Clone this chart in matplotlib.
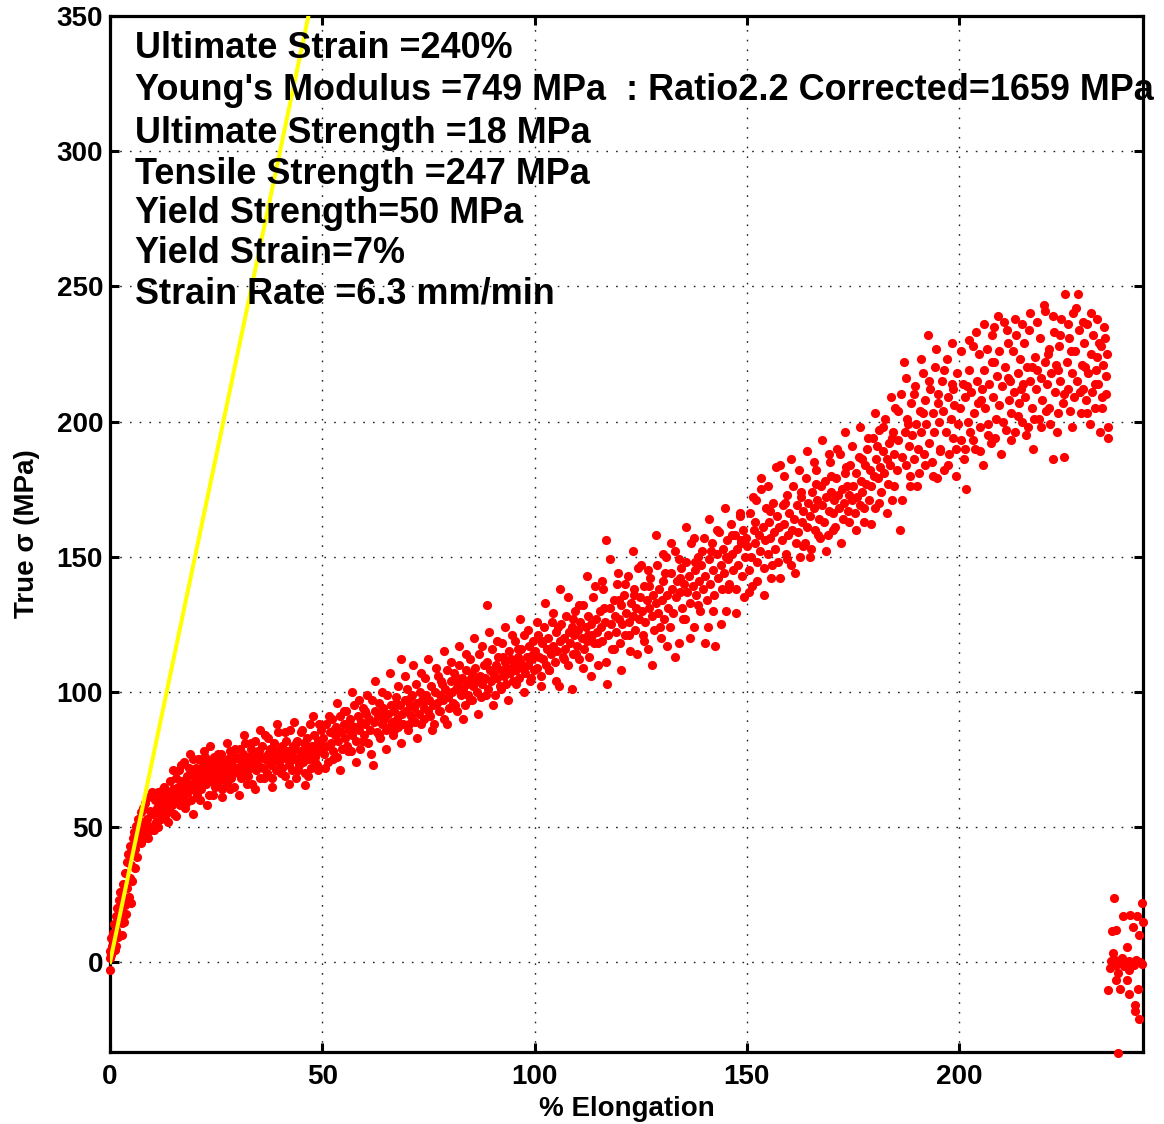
import matplotlib
matplotlib.use("Agg")
import matplotlib.pyplot as plt
import numpy as np

# ---------------- data: (% elongation, true stress MPa) ----------------
seg_a = [(0.0,-3.0),(0.0,1.5),(0.1,4.0),(0.2,9.0),(0.3,2.5),(0.5,6.0),(0.6,11.0),(0.8,8.5),(1.0,14.0),(1.1,4.5),
         (1.3,17.0),(1.5,12.0),(1.7,20.0),(1.9,9.5),(2.1,23.0),(2.3,16.0),(2.4,26.0),(2.6,19.0),(2.9,14.5),(3.1,29.0),
         (3.3,24.0),(3.5,33.0),(3.6,21.0),(3.9,37.0),(4.1,27.5),(4.3,40.0),(4.6,31.0),(4.8,43.0),(5.0,36.0),(5.3,46.0),
         (5.5,39.5),(5.7,48.0),(6.0,42.0),(6.2,50.5),(6.5,44.5),(6.7,53.0),(7.0,47.0),(7.2,55.5),(7.5,49.0),(7.8,57.0),
         (8.1,51.5),(8.3,59.0),(8.6,53.0),(8.9,61.0),(9.2,50.5),(9.5,56.0),(9.8,63.0),
         (1.45,6.0),(2.75,10.0),(3.25,15.0),(3.85,18.0),(4.45,24.0),(4.95,22.0),(5.15,30.0),(5.95,35.0),(6.45,39.0),
         (7.35,44.0),(7.95,46.0),(8.45,48.0),(9.05,46.0),(9.65,49.0)]

seg_b = [(10.1,55),(10.3,49),(10.5,60),(10.8,52),(11.0,57),(11.2,63),(11.4,50),(11.7,55),(11.9,59),(12.1,53),
         (12.3,61),(12.5,57),(12.8,65),(13.0,54),(13.2,60),(13.5,58),(13.7,63),(13.9,56),(14.2,67),(14.4,61),
         (14.6,58),(14.9,64),(15.1,55),(15.3,62),(15.6,68),(15.8,60),(16.0,65),(16.3,71),(16.5,58),(16.7,63),
         (17.0,67),(17.2,61),(17.4,74),(17.7,65),(17.9,59),(18.2,69),(18.4,63),(18.6,72),(18.9,66),(19.1,60),
         (19.3,70),(19.6,75),(19.8,64),(20.1,68),(20.3,72),(20.5,62),(20.8,66),(21.0,75),(21.3,70),(21.5,64),
         (21.8,68),(22.0,73),(22.3,76),(22.5,66),(22.8,71),(23.0,69),(23.3,62),(23.5,74),(23.8,67),(24.0,72),
         (24.3,70),(24.5,76),(24.8,65),(25.0,69),(25.3,73),(25.6,67),(25.8,71),(26.1,77),(26.3,64),(26.6,70),
         (26.8,74),(27.1,68),(27.3,72),(27.6,66),(27.8,75),(28.1,70),(28.3,78),(28.6,68),(28.8,73),(29.1,71),
         (29.3,65),(29.6,76),(29.8,72)]

seg_c = [(30.1,70),(30.3,75),(30.6,79),(30.8,68),(31.1,73),(31.3,77),(31.6,71),(31.8,81),(32.1,74),(32.4,69),
         (32.6,76),(32.9,72),(33.1,79),(33.4,66),(33.6,74),(33.9,77),(34.1,82),(34.4,71),(34.6,75),(34.9,73),
         (35.1,78),(35.4,68),(35.6,76),(35.9,80),(36.1,72),(36.4,75),(36.6,84),(36.9,70),(37.1,77),(37.4,74),
         (37.6,79),(37.9,73),(38.1,68),(38.4,76),(38.6,81),(38.9,75),(39.1,71),(39.4,78),(39.6,85),(39.9,74),
         (40.1,77),(40.4,72),(40.6,80),(40.9,76),(41.1,69),(41.4,82),(41.6,75),(41.9,78),(42.1,73),(42.4,86),
         (42.6,77),(42.9,71),(43.1,80),(43.4,75),(43.6,79),(43.9,68),(44.1,82),(44.4,76),(44.6,73),(44.9,85),
         (45.1,78),(45.4,74),(45.6,81),(45.9,70),(46.0,65.5),(46.1,77),(46.4,83),(46.6,79),(46.9,75),(47.1,88),
         (47.4,72),(47.6,80),(47.9,77),(48.1,84),(48.4,74),(48.6,79),(48.9,82),(49.1,71),(49.4,78),(49.6,86),(49.9,80)]

seg_d = [(50.2,83),(50.5,77),(50.8,88),(51.1,80),(51.4,74),(51.7,85),(52.0,81),(52.3,90),(52.6,78),(52.9,84),
         (53.2,87),(53.5,76),(53.8,82),(54.1,91),(54.4,85),(54.7,79),(55.0,88),(55.3,83),(55.6,93),(55.9,80),
         (56.2,86),(56.5,90),(56.8,78),(57.1,84),(57.4,95),(57.7,87),(58.0,82),(58.3,91),(58.6,86),(58.9,79),
         (59.2,89),(59.5,94),(59.8,84),(60.1,88),(60.4,92),(60.7,81),(61.0,90),(61.3,86),(61.6,97),(61.9,73),
         (62.2,89),(62.5,93),(62.8,85),(63.1,91),(63.4,96),(63.7,83),(64.0,88),(64.3,94),(64.6,90),(64.9,86),
         (65.2,99),(65.5,92),(65.8,87),(66.1,95),(66.4,89),(66.7,84),(67.0,93),(67.3,98),(67.6,90),(67.9,87),
         (68.2,95),(68.5,112),(68.8,92),(69.1,88),(69.4,97),(69.7,93),(70.0,101),(70.3,86),(70.6,95),(70.9,91),
         (71.2,99),(71.5,94),(71.8,89),(72.1,103),(72.4,96),(72.7,92),(73.0,100),(73.3,88),(73.6,97),(73.9,94),
         (74.2,105),(74.5,99),(74.8,93)]

seg_e = [(75.1,97),(75.4,91),(75.7,102),(76.0,95),(76.3,88),(76.6,100),(76.9,96),(77.2,106),(77.5,93),(77.8,99),
         (78.1,103),(78.4,97),(78.7,90),(79.0,101),(79.3,108),(79.6,98),(79.9,94),(80.2,104),(80.5,100),(80.8,96),
         (81.1,107),(81.4,101),(81.7,93),(82.0,103),(82.3,110),(82.6,99),(82.9,105),(83.2,101),(83.5,95),(83.8,108),
         (84.1,103),(84.4,99),(84.7,112),(85.0,105),(85.3,97),(85.6,102),(85.9,109),(86.2,104),(86.5,100),(86.8,114),
         (87.1,106),(87.4,98),(87.7,103),(88.0,110),(88.3,105),(88.8,132),(89.1,101),(89.4,108),(89.7,104),(90.0,116),
         (90.3,107),(90.6,99),(90.9,110),(91.2,105),(91.5,113),(91.8,102),(92.1,108),(92.4,118),(92.7,106),(93.0,111),
         (93.3,103),(93.6,109),(93.9,115),(94.2,107),(94.5,112),(94.8,104),(95.1,110),(95.4,119),(95.7,108),(96.0,113),
         (96.3,105),(96.6,111),(96.9,116),(97.2,109),(97.5,121),(97.8,107),(98.1,113),(98.4,110),(98.7,117),(99.0,104),
         (99.3,112),(99.6,119),(99.9,108)]

seg_f = [(100.2,115),(100.5,109),(100.8,121),(101.1,113),(101.4,106),(101.7,118),(102.0,112),(102.3,124),(102.6,110),(102.9,116),
         (103.2,120),(103.5,108),(103.8,114),(104.1,126),(104.4,117),(104.7,111),(105.0,122),(105.3,115),(105.7,102),(106.0,119),
         (106.3,125),(106.6,113),(106.9,120),(107.2,116),(107.5,128),(107.8,110),(108.1,122),(108.4,118),(108.7,124),(109.0,114),
         (109.3,121),(109.6,130),(109.9,117),(110.2,123),(110.5,112),(110.8,126),(111.1,120),(111.4,132),(111.7,116),(112.0,124),
         (112.3,119),(112.6,128),(112.9,113),(113.2,125),(113.5,121),(113.8,135),(114.1,118),(114.4,127),(114.7,122),(115.0,110),
         (115.3,130),(115.6,124),(115.9,119),(116.2,138),(116.5,126),(116.8,156),(117.1,103),(117.4,121),(117.7,131),(118.0,125),
         (118.3,116),(118.6,134),(118.9,128),(119.2,122),(119.5,140),(119.8,127),(120.1,118),(120.4,132),(120.7,125),(121.0,136),
         (121.3,121),(121.6,129),(121.9,143),(122.2,126),(122.5,115),(122.8,133),(123.1,128),(123.4,138),(123.7,123),(124.0,131),
         (124.3,146),(124.6,127),(124.9,135)]

seg_g = [(125.2,130),(125.5,121),(125.8,139),(126.1,126),(126.4,134),(126.7,116),(127.0,131),(127.3,142),(127.6,128),(127.9,136),
         (128.2,123),(128.5,133),(128.8,147),(129.1,129),(129.4,138),(129.7,120),(130.0,134),(130.3,141),(130.6,127),(130.9,150),
         (131.2,136),(131.5,131),(131.8,124),(132.1,144),(132.4,138),(132.7,129),(133.0,152),(133.3,135),(133.6,141),(133.9,118),
         (134.2,137),(134.5,146),(134.8,131),(135.1,140),(135.4,127),(135.7,148),(136.0,137),(136.3,143),(136.6,133),(136.9,155),
         (137.2,139),(137.5,124),(137.8,145),(138.1,136),(138.4,150),(138.7,141),(139.0,130),(139.3,147),(139.6,138),(139.9,157),
         (140.2,143),(140.5,134),(140.8,124),(141.1,149),(141.4,140),(141.7,155),(142.0,145),(142.3,136),(142.6,117),(142.9,151),
         (143.2,142),(143.5,159),(143.8,147),(144.1,138),(144.4,153),(144.7,144),(145.0,130),(145.3,156),(145.6,149),(145.9,140),
         (146.2,162),(146.5,151),(146.8,145),(147.1,158),(147.4,138),(147.7,153),(148.0,147),(148.3,165),(148.6,155),(148.9,143),
         (149.2,160),(149.5,150),(149.8,157)]

seg_h = [(150.1,154),(150.4,145),(150.7,166),(151.0,150),(151.3,139),(151.6,160),(151.9,155),(152.2,171),(152.5,148),(152.8,158),
         (153.1,152),(153.4,175),(153.7,161),(154.0,146),(154.3,156),(154.6,168),(154.9,151),(155.2,163),(155.5,157),(155.8,142),
         (156.1,170),(156.4,159),(156.7,153),(157.0,165),(157.3,148),(157.6,161),(157.9,184),(158.2,156),(158.5,169),(158.8,162),
         (159.1,151),(159.4,173),(159.7,158),(160.0,166),(160.3,147),(160.6,160),(160.9,176),(161.2,164),(161.5,155),(161.8,169),
         (162.1,159),(162.4,150),(162.7,172),(163.0,163),(163.3,167),(163.6,155),(163.9,179),(164.2,161),(164.5,170),(164.8,165),
         (165.1,153),(165.4,174),(165.7,168),(166.0,160),(166.3,182),(166.6,171),(166.9,164),(167.2,157),(167.5,176),(167.8,169),
         (168.1,163),(168.4,178),(168.7,172),(169.0,158),(169.3,167),(169.6,185),(169.9,174),(170.2,166),(170.5,171),(170.8,161),
         (171.1,179),(171.4,173),(171.7,168),(172.0,188),(172.3,175),(172.6,164),(172.9,170),(173.2,181),(173.5,176),(173.8,167),
         (174.1,173),(174.4,184),(174.7,171)]

seg_i = [(175.1,176),(175.4,166),(175.7,181),(176.0,172),(176.3,187),(176.6,169),(176.9,178),(177.2,174),(177.5,163),(177.8,184),
         (178.1,177),(178.4,190),(178.7,171),(179.0,182),(179.3,176),(179.6,194),(179.9,180),(180.2,168),(180.5,186),(180.8,179),
         (181.1,197),(181.4,183),(181.7,174),(182.0,189),(182.3,181),(182.6,201),(182.9,186),(183.2,177),(183.5,192),(183.8,184),
         (184.1,171),(184.4,196),(184.7,188),(185.0,205),(185.3,182),(185.6,193),(186.0,160),(186.3,210),(186.6,187),(186.9,222),
         (187.2,196),(187.5,184),(187.8,201),(188.1,191),(188.4,176),(188.7,207),(189.0,195),(189.3,186),(189.6,213),(189.9,199),
         (190.2,190),(190.5,181),(190.8,204),(191.1,196),(191.4,218),(191.7,188),(192.0,208),(192.3,199),(192.6,232),(192.9,192),
         (193.2,212),(193.5,185),(193.8,203),(194.1,196),(194.4,220),(194.7,179),(195.0,207),(195.3,200),(195.6,190),(195.9,215),
         (196.2,204),(196.5,182),(196.8,196),(197.1,223),(197.4,209),(197.7,188),(198.0,201),(198.3,214),(198.6,194),(198.9,206),
         (199.2,180),(199.5,218),(199.8,199)]

seg_j = [(200.2,205),(200.5,193),(200.8,214),(201.1,186),(201.4,209),(201.7,175),(202.0,200),(202.3,219),(202.6,196),(202.9,211),
         (203.2,228),(203.5,203),(203.8,190),(204.1,215),(204.4,207),(204.7,225),(205.0,198),(205.3,212),(205.6,184),(205.9,219),
         (206.2,205),(206.5,227),(206.8,199),(207.1,214),(207.4,192),(207.7,222),(208.0,209),(208.3,235),(208.6,201),(208.9,217),
         (209.2,239),(209.5,206),(209.8,188),(210.2,213),(210.5,237),(210.8,220),(211.1,197),(211.4,229),(211.7,208),(212.0,215),
         (212.3,203),(212.6,226),(212.9,211),(213.2,196),(213.5,232),(213.8,218),(214.1,207),(214.4,223),(214.7,200),(215.0,214),
         (215.3,229),(215.6,209),(215.9,220),(216.2,198),(216.5,234),(216.8,215),(217.1,205),(217.5,190),(217.8,224),(218.1,212),
         (218.4,219),(218.7,201),(219.0,231),(219.3,216),(219.6,208),(219.9,243),(220.2,222),(220.5,204),(220.8,214),(221.1,227),
         (221.4,199),(221.7,218),(222.0,186),(222.3,233),(222.6,211),(222.9,221),(223.2,203),(223.5,228),(223.8,215),(224.1,238),
         (224.4,207),(224.7,187),(225.0,247),(225.3,222),(225.6,212),(225.9,231),(226.2,204),(226.5,218),(226.8,240),(227.1,209),
         (227.4,226),(227.7,215),(228.0,247),(228.3,234),(228.6,203),(228.9,221),(229.2,212),(229.5,229),(229.8,208),(230.1,236),
         (230.4,218),(230.7,199),(231.0,225),(231.3,211),(231.6,232),(231.9,205),(232.2,219),(232.5,238),(232.8,214),(233.1,196),
         (233.4,228),(233.6,205),(233.9,221),(234.2,235),(234.5,210),(234.8,225),(235.0,194),(235.0,198),(234.7,217)]

# extra readings along the edges and middle of the band
extra_1 = [(12.45,64),(13.65,52),(14.85,71),(15.45,54),(16.65,73),(17.55,57),(18.75,77),(19.45,55),(20.65,75),(21.15,60),
           (22.15,78),(22.95,58),(23.65,80),(24.15,62),(25.45,77),(26.45,61),(27.45,81),(28.25,64),(29.45,79),(30.45,62),
           (31.45,84),(32.25,66),(33.25,81),(34.25,64),(35.25,86),(36.25,68),(37.25,83),(38.25,65),(39.25,88),(40.25,70),
           (41.25,85),(42.25,66),(43.25,89),(44.25,71),(45.25,86),(46.75,69),(47.75,91),(48.75,73),(49.25,88),
           (13.35,62),(15.95,63),(18.05,66),(20.95,70),(23.15,72),(25.95,74),(28.95,75),(31.95,76),(34.75,78),(37.75,76),
           (40.75,79),(43.75,81),(46.35,80),(48.35,76)]

extra_2 = [(50.65,72),(51.55,91),(52.45,75),(53.35,96),(54.25,71),(55.15,93),(56.05,78),(56.95,100),(57.85,74),(58.75,97),
           (59.65,82),(60.55,99),(61.45,77),(62.35,104),(63.25,84),(64.15,100),(65.05,79),(65.95,107),(66.85,86),(67.75,102),
           (68.65,81),(69.55,106),(70.45,88),(71.35,110),(72.25,83),(73.15,107),(74.05,90),(74.95,112),(75.85,86),(76.75,109),
           (77.65,93),(78.55,115),(79.45,88),(80.35,111),(81.25,95),(82.15,117),(83.05,90),(83.95,114),(84.85,97),(85.75,120),
           (86.65,92),(87.55,117),(88.45,99),(89.35,122),(90.25,95),(91.15,119),(92.05,101),(92.95,124),(93.85,97),(94.75,121),
           (95.65,103),(96.55,127),(97.45,100),(98.35,123),(99.25,105),
           (52.85,86),(56.45,88),(60.05,93),(63.65,92),(67.25,96),(70.85,98),(74.45,97),(78.05,104),(81.65,105),(85.25,107),
           (88.85,111),(92.45,113),(96.05,116),(99.65,114)]

extra_3 = [(100.65,126),(101.55,102),(102.45,133),(103.35,108),(104.25,129),(105.15,104),(106.05,138),(106.95,112),(107.85,135),(108.75,101),
           (109.65,114),(110.55,132),(111.45,109),(112.35,143),(113.25,106),(114.15,139),(115.05,118),(115.95,141),(116.85,111),(117.75,149),
           (118.65,116),(119.55,144),(120.45,108),(121.35,140),(122.25,121),(123.15,152),(124.05,114),(124.95,147),(125.85,119),(126.75,145),
           (127.65,110),(128.55,158),(129.45,124),(130.35,151),(131.25,117),(132.15,155),(133.05,113),(133.95,149),(134.85,127),(135.75,161),
           (136.65,120),(137.55,157),(138.45,132),(139.35,152),(140.25,118),(141.15,164),(142.05,130),(142.95,160),(143.85,125),(144.75,168),
           (145.65,138),(146.55,158),(147.45,129),(148.35,166),(149.25,135),
           (101.85,119),(105.45,124),(109.05,127),(112.65,121),(116.25,131),(119.85,134),(123.45,136),(127.05,139),(130.65,144),(134.25,142),
           (137.85,148),(141.45,152),(145.05,150),(148.65,156)]

extra_4 = [(150.55,137),(151.45,172),(152.35,141),(153.25,179),(154.15,136),(155.05,176),(155.95,147),(156.85,183),(157.75,142),(158.65,180),
           (159.55,149),(160.45,186),(161.35,144),(162.25,182),(163.15,154),(164.05,189),(164.95,150),(165.85,185),(166.75,158),(167.65,193),
           (168.55,152),(169.45,188),(170.35,160),(171.25,190),(172.15,155),(173.05,196),(173.95,163),(174.85,191),(175.75,160),(176.65,198),
           (177.55,168),(178.45,194),(179.35,162),(180.25,203),(181.15,170),(182.05,198),(182.95,166),(183.85,209),(184.75,176),(185.65,204),
           (186.55,171),(187.45,216),(188.35,180),(189.25,210),(190.15,176),(191.05,223),(191.95,184),(192.85,215),(193.75,180),(194.65,227),
           (195.55,189),(196.45,219),(197.35,184),(198.25,229),(199.15,190),
           (151.85,163),(155.45,167),(159.05,170),(162.65,174),(166.25,177),(169.85,180),(173.45,183),(177.05,186),(180.65,191),(184.25,194),
           (187.85,199),(191.45,203),(195.05,210),(198.65,212)]

extra_5 = [(200.45,226),(201.35,190),(202.25,230),(203.15,193),(204.05,233),(204.95,189),(205.85,236),(206.75,195),(207.65,232),(208.55,194),
           (209.45,226),(210.35,200),(211.25,234),(212.15,193),(213.05,238),(213.95,202),(214.85,236),(215.75,195),(216.65,240),(217.55,201),
           (218.45,237),(219.35,198),(220.25,241),(221.15,205),(222.05,239),(222.95,196),(223.85,232),(224.75,210),(225.65,236),(226.55,198),
           (227.45,242),(228.35,211),(229.25,237),(230.15,203),(231.05,240),(231.95,214),(232.85,229),(233.75,209),(234.45,231),
           (201.95,213),(205.25,208),(208.25,222),(211.55,216),(214.55,212),(217.25,220),(220.95,225),(223.25,219),(226.25,226),(229.65,220),
           (232.45,224)]

seg_k = [(236.4,23.6),(243.0,22.0),(238.5,17.0),(240.2,17.5),(241.9,17.0),(243.4,15.0),(241.0,13.0),(236.0,11.5),
         (236.9,12.0),(242.3,10.0),(239.5,5.7),(236.3,3.5),(235.8,0.5),(236.8,1.0),(237.6,0.0),(238.4,1.5),(239.2,0.0),
         (240.0,0.5),(240.8,-0.5),(241.6,1.0),(242.5,0.0),(243.0,-0.5),(237.0,-1.0),(238.9,-1.5),(241.2,-1.0),(235.5,-2.0),
         (237.4,-4.0),(240.0,-3.0),(236.9,-6.7),(239.6,-6.7),(235.0,-10.4),(238.0,-10.0),(240.1,-11.6),(242.1,-10.0),
         (241.4,-16.0),(241.4,-18.0),(242.3,-21.0),(237.4,-33.4)]

youngs_modulus_mpa = 749.0          # slope of yellow modulus line (MPa per unit strain)
xticks = [0, 50, 100, 150, 200]
yticks = [0, 50, 100, 150, 200, 250, 300, 350]
info_lines = ["Ultimate Strain =240%",
              "Young's Modulus =749 MPa  : Ratio2.2 Corrected=1659 MPa",
              "Ultimate Strength =18 MPa",
              "Tensile Strength =247 MPa",
              "Yield Strength=50 MPa",
              "Yield Strain=7%",
              "Strain Rate =6.3 mm/min"]

# ---------------- figure ----------------
plt.rcParams['font.family'] = ['Liberation Sans', 'DejaVu Sans']
plt.rcParams['font.weight'] = 'bold'

W, H = 1164, 1124
fig = plt.figure(figsize=(W / 100, H / 100), dpi=100)
ax = fig.add_axes([110 / W, 72 / H, (1143 - 110) / W, (1108 - 72) / H])

all_pts = (seg_a + seg_b + seg_c + seg_d + seg_e + seg_f + seg_g + seg_h + seg_i + seg_j
           + extra_1 + extra_2 + extra_3 + extra_4 + extra_5 + seg_k)
pts = np.array(all_pts, dtype=float)
ax.plot(pts[:, 0], pts[:, 1], linestyle='none', marker='o', ms=6.6,
        mfc='#ff0000', mec='#ff0000', mew=0, clip_on=False, zorder=4)

y_line = np.array([0.0, 350.0])
x_line = y_line / youngs_modulus_mpa * 100.0
ax.plot(x_line, y_line, color='#ffff00', lw=2.9, zorder=5)

ax.set_xlim(0, 243.3)
ax.set_ylim(-33.2, 350)
ax.set_xticks(xticks)
ax.set_yticks(yticks)
ax.set_xticklabels([str(v) for v in xticks], fontsize=20, fontweight='bold')
ax.set_yticklabels([str(v) for v in yticks], fontsize=20, fontweight='bold')
ax.tick_params(direction='in', length=6.5, width=2.2, top=True, right=True)
ax.tick_params(axis='x', pad=9)
ax.tick_params(axis='y', pad=5)
for s in ax.spines.values():
    s.set_linewidth(2.3)

ax.grid(True, color='#222222', linestyle=(0, (1.2, 5.8)), linewidth=1.0)
ax.set_axisbelow(True)

ax.set_xlabel('% Elongation', fontsize=20, fontweight='bold', labelpad=4)
ax.set_ylabel('True σ (MPa)', fontsize=20, fontweight='bold', labelpad=12)

baselines_px = [58, 100, 143, 184, 223, 263, 303]
for line, by in zip(info_lines, baselines_px):
    fig.text(135 / W, 1 - by / H, line, fontsize=25.9, fontweight='bold',
             va='baseline', ha='left', zorder=6)

fig.savefig('out.png', dpi=100)
